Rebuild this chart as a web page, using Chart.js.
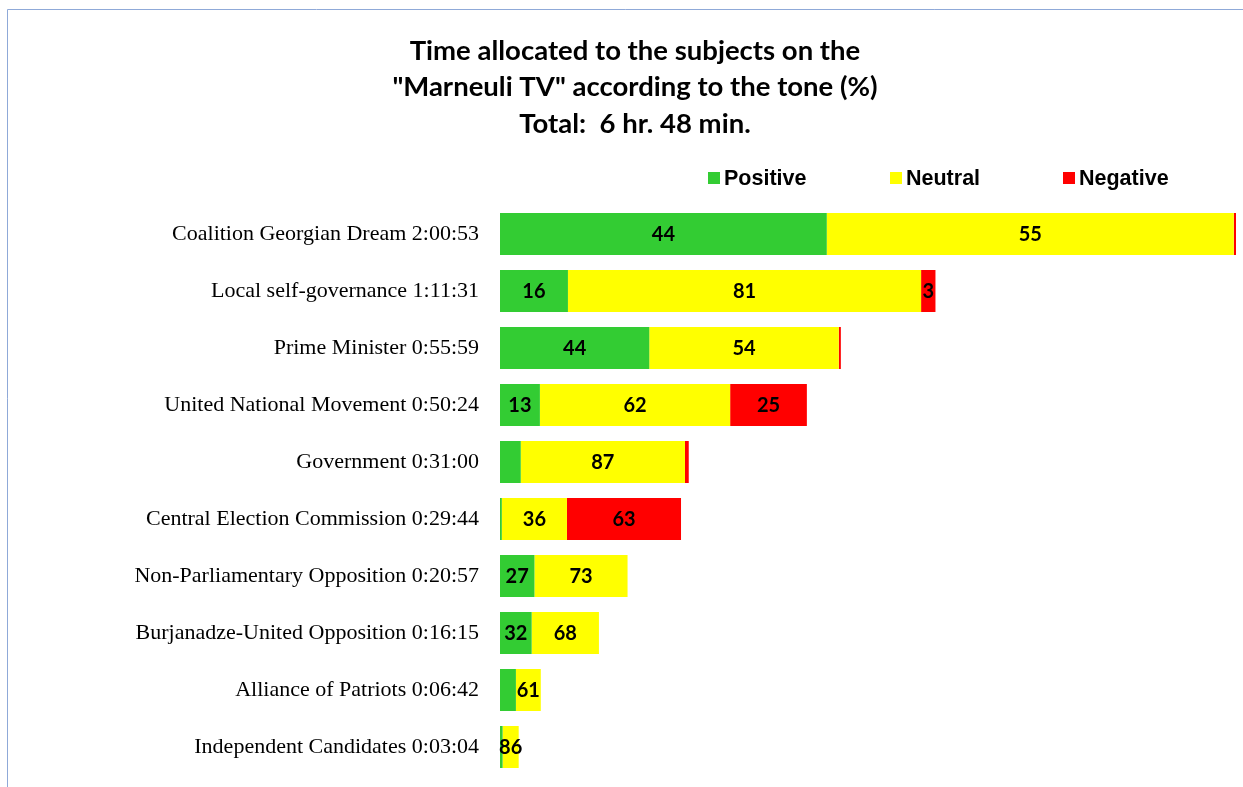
<!DOCTYPE html>
<html>
<head>
<meta charset="utf-8">
<script src="https://cdn.jsdelivr.net/npm/chart.js@4/dist/chart.umd.min.js"></script>
<style>
html,body{margin:0;padding:0;background:#fff;}
#wrap{position:relative;width:1243px;height:787px;}
</style>
</head>
<body>
<div id="wrap"><canvas id="c" width="1243" height="787"></canvas></div>
<script>
// ---- data ----
const categories = [
  "Coalition Georgian Dream 2:00:53",
  "Local self-governance 1:11:31",
  "Prime Minister 0:55:59",
  "United National Movement 0:50:24",
  "Government 0:31:00",
  "Central Election Commission 0:29:44",
  "Non-Parliamentary Opposition 0:20:57",
  "Burjanadze-United Opposition 0:16:15",
  "Alliance of Patriots 0:06:42",
  "Independent Candidates 0:03:04"
];
// total airtime in minutes per subject
const minutes = [120.88, 71.52, 55.98, 50.40, 31.00, 29.73, 20.95, 16.25, 6.70, 3.07];
// tone shares (%)
const positivePct = [44.4, 15.6, 43.8, 13, 11, 1, 27, 32, 39, 14];
const neutralPct  = [55.3, 81.1, 55.6, 62, 87, 36, 73, 68, 61, 86];
const negativePct = [0.3, 3.3, 0.6, 25, 2, 63, 0, 0, 0, 0];
// printed labels
const positiveLabels = ["44", "16", "44", "13", "", "", "27", "32", "", ""];
const neutralLabels  = ["55", "81", "54", "62", "87", "36", "73", "68", "61", "86"];
const negativeLabels = ["", "3", "", "25", "", "63", "", "", "", ""];
const seriesNames = ["Positive", "Neutral", "Negative"];
const seriesColors = ["#33cc33", "#ffff00", "#ff0000"];
const titleLines = ["Time allocated to the subjects on the", "\"Marneuli TV\" according to the tone (%)", "Total:  6 hr. 48 min."];

const toMinutes = pct => pct.map((p, i) => minutes[i] * p / 100);
const pctSets = [positivePct, neutralPct, negativePct];
const labelSets = [positiveLabels, neutralLabels, negativeLabels];

const decor = {
  id: 'decor',
  beforeDraw(chart) {
    const ctx = chart.ctx;
    ctx.save();
    ctx.fillStyle = '#ffffff';
    ctx.fillRect(0, 0, chart.width, chart.height);
    ctx.strokeStyle = '#8fa9d8';
    ctx.lineWidth = 1;
    ctx.beginPath();
    ctx.moveTo(7.5, chart.height);
    ctx.lineTo(7.5, 9.5);
    ctx.lineTo(chart.width, 9.5);
    ctx.stroke();
    // title
    ctx.fillStyle = '#000';
    ctx.font = 'bold 27.5px Lato';
    ctx.textAlign = 'center';
    ctx.textBaseline = 'middle';
    titleLines.forEach((t, i) => ctx.fillText(t, 635, 51 + i * 36.5));
    // legend
    const legendX = [708, 890, 1063];
    ctx.font = 'bold 21.5px "Liberation Sans"';
    ctx.textAlign = 'left';
    seriesNames.forEach((n, i) => {
      ctx.fillStyle = seriesColors[i];
      ctx.fillRect(legendX[i], 172, 12, 12);
      ctx.fillStyle = '#000';
      ctx.fillText(n, legendX[i] + 16, 179);
    });
    ctx.restore();
  },
  afterDatasetsDraw(chart) {
    const ctx = chart.ctx;
    ctx.save();
    ctx.fillStyle = '#000';
    ctx.font = 'bold 20px Lato';
    ctx.textAlign = 'center';
    ctx.textBaseline = 'middle';
    chart.data.datasets.forEach((ds, di) => {
      const meta = chart.getDatasetMeta(di);
      meta.data.forEach((el, i) => {
        const txt = labelSets[di][i];
        if (!txt) return;
        ctx.fillText(txt, (el.x + el.base) / 2, el.y + 1);
      });
    });
    ctx.restore();
  }
};

new Chart(document.getElementById('c'), {
  type: 'bar',
  data: {
    labels: categories,
    datasets: seriesNames.map((n, i) => ({
      label: n,
      data: toMinutes(pctSets[i]),
      backgroundColor: seriesColors[i],
      borderWidth: 0,
      categoryPercentage: 1,
      barPercentage: 0.737
    }))
  },
  options: {
    indexAxis: 'y',
    responsive: false,
    animation: false,
    layout: { padding: { left: 0, right: 7, top: 205.5, bottom: 11.5 } },
    plugins: { legend: { display: false }, title: { display: false }, tooltip: { enabled: false } },
    scales: {
      x: { stacked: true, display: false, min: 0, max: minutes[0] },
      y: {
        stacked: true,
        grid: { display: false, drawTicks: false },
        border: { display: false },
        ticks: { color: '#000', font: { family: '"Liberation Serif"', size: 22 }, padding: 21, autoSkip: false },
        afterFit(s) { s.width = 500; s.paddingTop = 0; s.paddingBottom = 0; }
      }
    }
  },
  plugins: [decor]
});
</script>
</body>
</html>
